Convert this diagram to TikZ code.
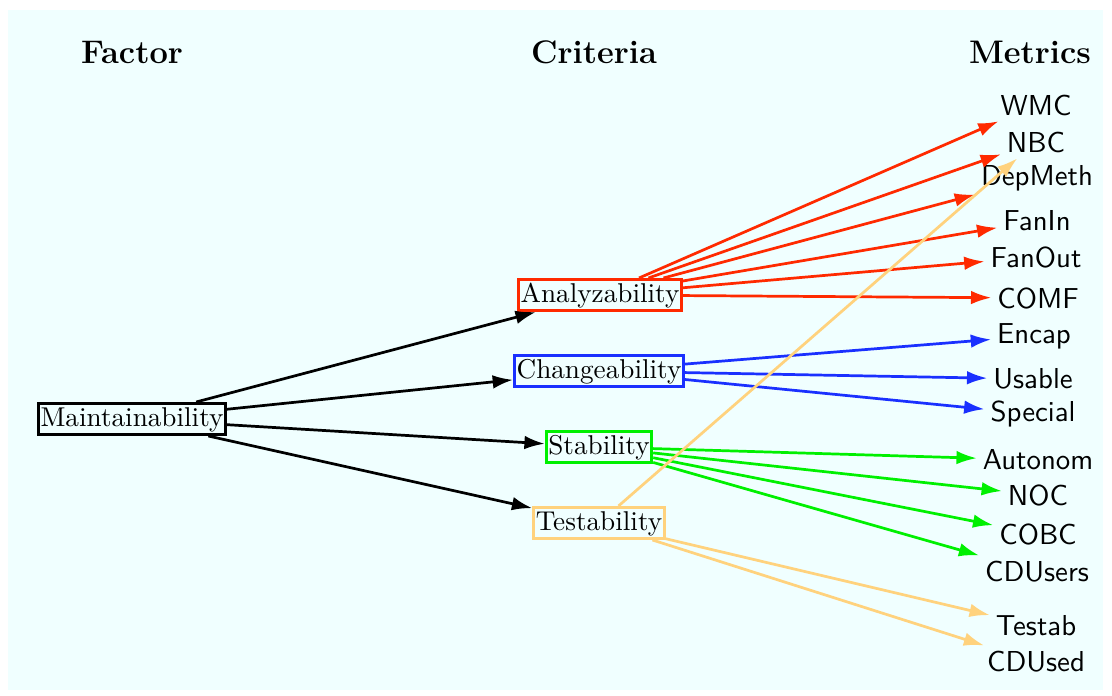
\documentclass[tikz,border=0pt]{standalone}
\usepackage{amsmath}
\usepackage{tikz}
\usetikzlibrary{arrows.meta}

\definecolor{bgcyan}{RGB}{240,255,255}
\definecolor{anared}{RGB}{255,42,0}
\definecolor{chgblue}{RGB}{26,48,255}
\definecolor{stbgreen}{RGB}{0,240,0}
\definecolor{tstyellow}{RGB}{255,210,125}

\tikzset{
  crit/.style={draw,line width=1pt,inner xsep=0.8pt,inner ysep=1pt,
               text height=7.5pt,text depth=2pt},
  metric/.style={font=\sffamily\fontsize{10.6}{12}\selectfont,inner sep=2pt},
  title/.style={font=\bfseries\large},
  link/.style={->,line width=1pt}
}

\begin{document}
\begin{tikzpicture}[>={Latex[length=7.5pt,width=5pt]},x=0.3676pt,y=-0.3676pt]
        \useasboundingbox (0,0) rectangle (1112,696);
        \fill[bgcyan] (8,10) rectangle (1103,690);

        \node[title] (tfac) at (132,52) {Factor};
        \node[title] (tcri) at (594,52) {Criteria};
        \node[title] (tmet) at (1030,52) {Metrics};

        \node[crit]  (mnt)  at (132,419)  {Maintainability};
        \node[crit,draw=anared]     (ana) at (600,295) {Analyzability};
        \node[crit,draw=chgblue]    (chg) at (599,371) {Changeability};
        \node[crit,draw=stbgreen]   (stb) at (599,447) {Stability};
        \node[crit,draw=tstyellow]  (tst) at (599,523) {Testability};

        \node[metric] (wmc)     at (1036,105) {WMC};
        \node[metric] (nbc)     at (1036,142) {NBC};
        \node[metric] (dep)     at (1037,178) {DepMeth};
        \node[metric] (fin)     at (1037,221) {FanIn};
        \node[metric] (fout)    at (1036,257) {FanOut};
        \node[metric] (comf)    at (1038,298) {COMF};
        \node[metric] (encap)   at (1034,336) {Encap};
        \node[metric] (usable)  at (1033,379) {Usable};
        \node[metric] (special) at (1033,414) {Special};
        \node[metric] (auton)   at (1038,460) {Autonom};
        \node[metric] (noc)     at (1038,495) {NOC};
        \node[metric] (cobc)    at (1038,534) {COBC};
        \node[metric] (cdusers) at (1037,572) {CDUsers};
        \node[metric] (testab)  at (1036,626) {Testab};
        \node[metric] (cdused)  at (1036,662) {CDUsed};

        % factor to criteria
        \draw[link]
                 (mnt) edge (ana)
                 (mnt) edge (chg)
                 (mnt) edge (stb)
                 (mnt) edge (tst);

        % criteria to metrics
        \draw[link,anared]
                 (ana) edge (wmc)
                 (ana) edge (nbc)
                 (ana) edge (dep)
                 (ana) edge (fin)
                 (ana) edge (fout)
                 (ana) edge (comf);

        \draw[link,chgblue]
                 (chg) edge (encap)
                 (chg) edge (usable)
                 (chg) edge (special);

        \draw[link,stbgreen]
                 (stb) edge (auton)
                 (stb) edge (noc)
                 (stb) edge (cobc)
                 (stb) edge (cdusers);

        \draw[link,tstyellow]
                 (tst) edge (nbc)
                 (tst) edge (testab)
                 (tst) edge (cdused);
\end{tikzpicture}
\end{document}
